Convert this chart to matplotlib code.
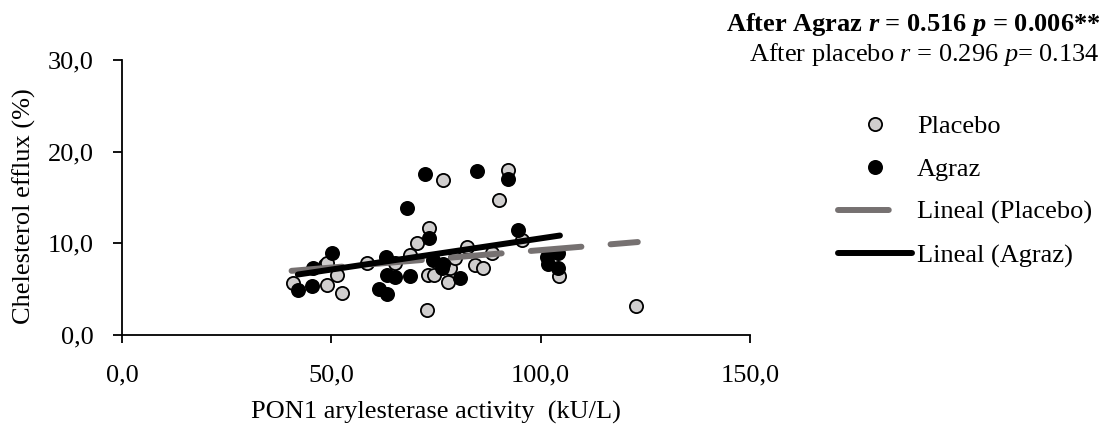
import matplotlib
matplotlib.use("Agg")
import matplotlib.pyplot as plt
import numpy as np

plt.rcParams['font.family'] = ['Liberation Serif', 'DejaVu Serif']
plt.rcParams['mathtext.fontset'] = 'custom'
plt.rcParams['mathtext.rm'] = 'Liberation Serif'
plt.rcParams['mathtext.it'] = 'Liberation Serif:italic'
plt.rcParams['mathtext.bf'] = 'Liberation Serif:bold'
plt.rcParams['mathtext.bfit'] = 'Liberation Serif:bold:italic'

# ---- data ----
placebo_x = [40.9, 48.5, 49.0, 49.0, 51.4, 52.5, 58.5, 65.2, 68.8, 70.5, 73.3, 72.8, 76.7,
             73.1, 74.5, 77.9, 78.3, 79.5, 82.4, 84.3, 86.2, 88.4, 90.0, 92.2, 95.5,
             104.4, 122.8]
placebo_y = [5.7, 7.6, 5.5, 7.9, 6.5, 4.6, 7.9, 7.9, 8.7, 10.0, 11.7, 2.7, 16.9,
             6.5, 6.5, 5.8, 7.3, 8.4, 9.6, 7.6, 7.3, 8.9, 14.7, 18.0, 10.4,
             6.4, 3.2]
agraz_x = [42.0, 45.4, 45.6, 50.2, 61.4, 63.0, 63.3, 63.3, 65.2, 68.1, 68.8, 72.4,
           73.3, 74.3, 76.4, 76.7, 80.7, 84.8, 92.2, 94.6, 101.5, 101.8, 104.2, 104.2]
agraz_y = [4.9, 5.4, 7.3, 9.0, 5.0, 8.5, 6.5, 4.5, 6.3, 13.9, 6.4, 17.6,
           10.6, 8.2, 7.3, 7.8, 6.2, 17.9, 17.0, 11.5, 8.5, 7.8, 8.9, 7.3]
# linear trend (slope, intercept) as shown
placebo_fit = [0.038, 5.46]
agraz_fit = [0.068, 3.74]

x_ticks = [0, 50, 100, 150]
y_ticks = [0, 10, 20, 30]
x_tick_labels = ["0,0", "50,0", "100,0", "150,0"]
y_tick_labels = ["0,0", "10,0", "20,0", "30,0"]

series_labels = ["Placebo", "Agraz", "Lineal (Placebo)", "Lineal (Agraz)"]
annot1 = r"After Agraz $\mathbfit{r}$ = 0.516 $\mathbfit{p}$ = 0.006**"
annot2 = r"After placebo $r$ = 0.296 $p$= 0.134"

FS = 19

# ---- figure ----
W, H = 1113, 432
fig = plt.figure(figsize=(W / 100, H / 100), dpi=100)
ax = fig.add_axes([122 / W, (H - 335) / H, (750 - 122) / W, (335 - 60) / H])

gray_fill = '#d0cece'
line_gray = '#767171'

ax.plot(placebo_x, placebo_y, 'o', ms=9.5, mfc=gray_fill, mec='black', mew=1.3,
        label=series_labels[0], zorder=3, clip_on=False)
ax.plot(agraz_x, agraz_y, 'o', ms=9.5, mfc='black', mec='black', mew=1.3,
        label=series_labels[1], zorder=4, clip_on=False)

px = np.array([min(placebo_x) - 0.4, max(placebo_x) + 0.4])
ax.plot(px, placebo_fit[0] * px + placebo_fit[1], color=line_gray, lw=4.3,
        dashes=(8.5, 4.9), dash_capstyle='round', solid_capstyle='round',
        label=series_labels[2], zorder=5)
axx = np.array([min(agraz_x), max(agraz_x) + 0.4])
ax.plot(axx, agraz_fit[0] * axx + agraz_fit[1], color='black', lw=4.3,
        solid_capstyle='round', label=series_labels[3], zorder=6)

ax.set_xlim(0, 150)
ax.set_ylim(0, 30)
ax.set_xticks(x_ticks)
ax.set_xticklabels(x_tick_labels)
ax.set_yticks(y_ticks)
ax.set_yticklabels(y_tick_labels)
ax.spines['top'].set_visible(False)
ax.spines['right'].set_visible(False)
for s in ['left', 'bottom']:
    ax.spines[s].set_linewidth(1.3)
ax.tick_params(axis='both', direction='out', width=1.3, labelsize=FS,
               colors='black')
ax.tick_params(axis='x', length=6, pad=15)
ax.tick_params(axis='y', length=6.5, pad=14)
ax.set_xlabel("PON1 arylesterase activity  (kU/L)", fontsize=FS)
ax.xaxis.set_label_coords(0.5, -(412 - 335) / 275)
ax.xaxis.label.set_va('center')
ax.set_ylabel("Chelesterol efflux (%)", fontsize=FS)
ax.yaxis.set_label_coords(-(122 - 24) / 628, (335 - 206) / 275)
ax.yaxis.label.set_va('center')

fig.text(1100 / W, 1 - 24 / H, annot1, ha='right', va='center', fontsize=FS,
         fontweight='bold')
fig.text(1100 / W, 1 - 55 / H, annot2, ha='right', va='center', fontsize=FS)

leg = fig.legend(loc='center left', bbox_to_anchor=(838 / W, 1 - 191 / H),
                 frameon=False, fontsize=FS, handlelength=2.8, handletextpad=0.19,
                 labelspacing=0.74, borderpad=0, borderaxespad=0)

fig.savefig("out.png", dpi=100)
